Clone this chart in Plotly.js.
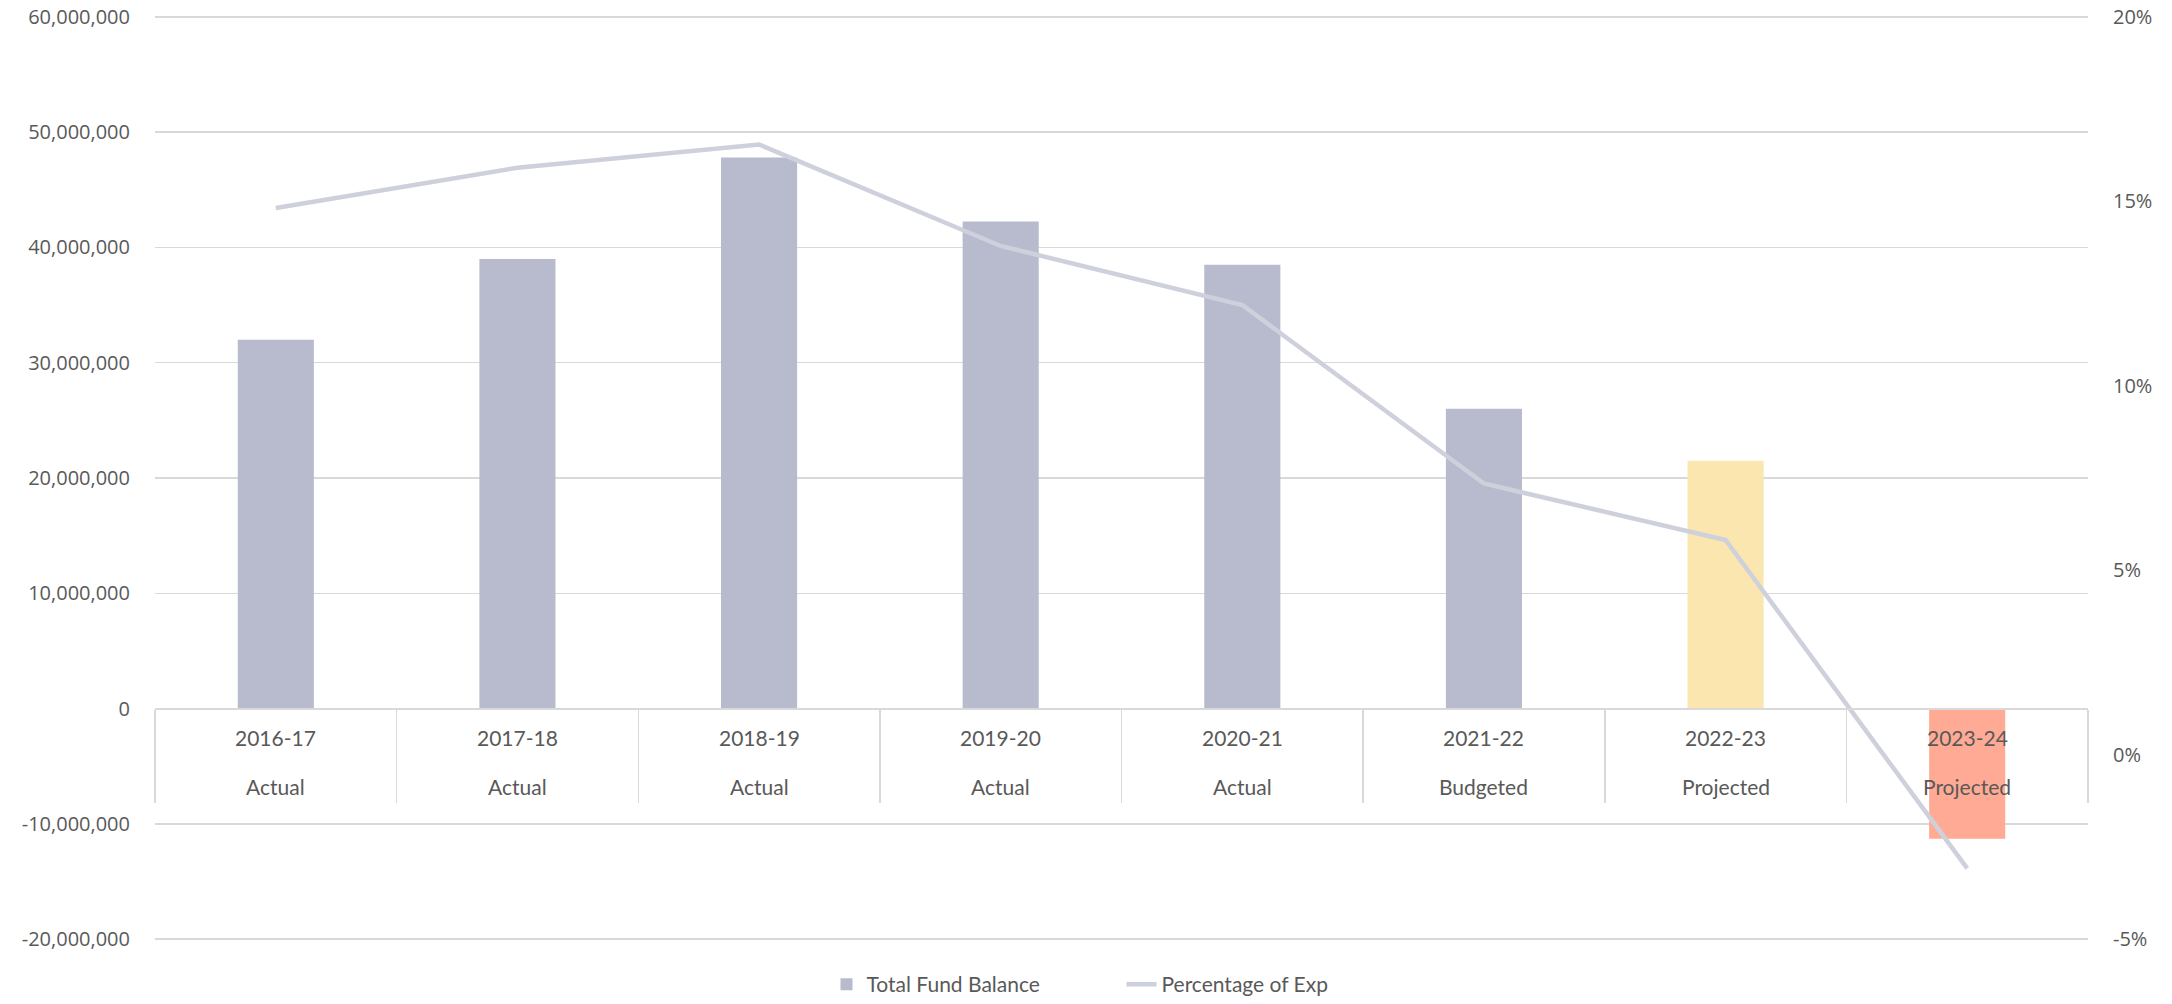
<!DOCTYPE html>
<html>
<head>
<meta charset="utf-8">
<script src="https://cdn.plot.ly/plotly-3.0.1.min.js"></script>
<style>
  html, body { margin: 0; padding: 0; background: #ffffff; }
  #chart { width: 2172px; height: 1004px; }
</style>
</head>
<body>
<div id="chart"></div>
<script>
// ---- data ----
const categories = ['2016-17', '2017-18', '2018-19', '2019-20', '2020-21', '2021-22', '2022-23', '2023-24'];
const statusLabels = ['Actual', 'Actual', 'Actual', 'Actual', 'Actual', 'Budgeted', 'Projected', 'Projected'];
const fundBalance = [32000000, 39000000, 47800000, 42250000, 38500000, 26000000, 21500000, -11300000];
const pctOfExp = [0.1482, 0.1591, 0.1654, 0.1379, 0.1219, 0.0735, 0.0582, -0.0308];
const leftTicks = [-20000000, -10000000, 0, 10000000, 20000000, 30000000, 40000000, 50000000, 60000000];
const rightTicks = [-0.05, 0, 0.05, 0.10, 0.15, 0.20];

// ---- styles ----
const barColors = ['#B8BBCD', '#B8BBCD', '#B8BBCD', '#B8BBCD', '#B8BBCD', '#B8BBCD', '#FAE6AE', '#FFAA94'];
const lineColor = '#CED0DC';
const textColor = '#595959';
const gridColor = '#D9D9D9';
const numFont = { family: 'Open Sans, sans-serif', size: 20, color: textColor };
const catFont = { family: 'Lato, sans-serif', size: 21, color: textColor };

// small padding so the outermost gridlines are drawn inside the plot area
const padFrac = 0.002;
const lSpan = leftTicks[leftTicks.length - 1] - leftTicks[0];
const rSpan = rightTicks[rightTicks.length - 1] - rightTicks[0];
const leftRange = [leftTicks[0] - lSpan * padFrac, leftTicks[leftTicks.length - 1] + lSpan * padFrac];
const rightRange = [rightTicks[0] - rSpan * padFrac, rightTicks[rightTicks.length - 1] + rSpan * padFrac];
const zeroPos = (0 - leftRange[0]) / (leftRange[1] - leftRange[0]);

const fmtNum = v => (v < 0 ? '-' : '') + Math.abs(v).toLocaleString('en-US');
const fmtPct = v => (v < 0 ? '-' : '') + Math.round(Math.abs(v) * 100) + '%';

const traces = [
  {
    type: 'bar',
    name: 'Total Fund Balance',
    x: categories,
    y: fundBalance,
    width: 0.315,
    marker: { color: barColors, line: { width: 0 } },
    hoverinfo: 'x+y'
  },
  {
    type: 'scatter',
    mode: 'lines',
    name: 'Percentage of Exp',
    x: categories,
    y: pctOfExp,
    yaxis: 'y2',
    line: { color: lineColor, width: 4.5 },
    hoverinfo: 'x+y'
  }
];

const annotations = [];
categories.forEach((c, i) => {
  annotations.push({
    x: c, y: 0, xref: 'x', yref: 'y', text: c, showarrow: false,
    yshift: -29, yanchor: 'middle', xanchor: 'center', font: catFont
  });
  annotations.push({
    x: c, y: 0, xref: 'x', yref: 'y', text: statusLabels[i], showarrow: false,
    yshift: -78, yanchor: 'middle', xanchor: 'center', font: catFont
  });
});

const layout = {
  width: 2172,
  height: 1004,
  margin: { l: 155, r: 84, t: 15, b: 63, autoexpand: false },
  paper_bgcolor: '#ffffff',
  plot_bgcolor: '#ffffff',
  showlegend: true,
  legend: {
    orientation: 'h',
    x: 0.5, xanchor: 'center',
    y: -0.047, yanchor: 'middle',
    font: catFont,
    traceorder: 'normal',
    entrywidth: 250,
    entrywidthmode: 'pixels'
  },
  xaxis: {
    type: 'category',
    range: [-0.5, categories.length - 0.5],
    anchor: 'free',
    position: zeroPos,
    showline: true,
    linecolor: gridColor,
    linewidth: 2,
    showgrid: false,
    zeroline: false,
    ticks: 'outside',
    tickson: 'boundaries',
    ticklen: 93,
    tickwidth: 1.5,
    tickcolor: gridColor,
    showticklabels: false,
    fixedrange: true
  },
  yaxis: {
    range: leftRange,
    tickvals: leftTicks,
    ticktext: leftTicks.map(fmtNum),
    showgrid: true,
    gridcolor: gridColor,
    gridwidth: 1.5,
    zeroline: false,
    showline: false,
    ticks: 'outside',
    ticklen: 20,
    tickcolor: 'rgba(0,0,0,0)',
    tickfont: numFont,
    fixedrange: true
  },
  yaxis2: {
    overlaying: 'y',
    side: 'right',
    range: rightRange,
    tickvals: rightTicks,
    ticktext: rightTicks.map(fmtPct),
    showgrid: false,
    zeroline: false,
    showline: false,
    ticks: 'outside',
    ticklen: 20,
    tickcolor: 'rgba(0,0,0,0)',
    tickfont: numFont,
    fixedrange: true
  },
  annotations: annotations,
  hovermode: 'closest'
};

Plotly.newPlot('chart', traces, layout, { displayModeBar: false, staticPlot: true });
</script>
</body>
</html>
